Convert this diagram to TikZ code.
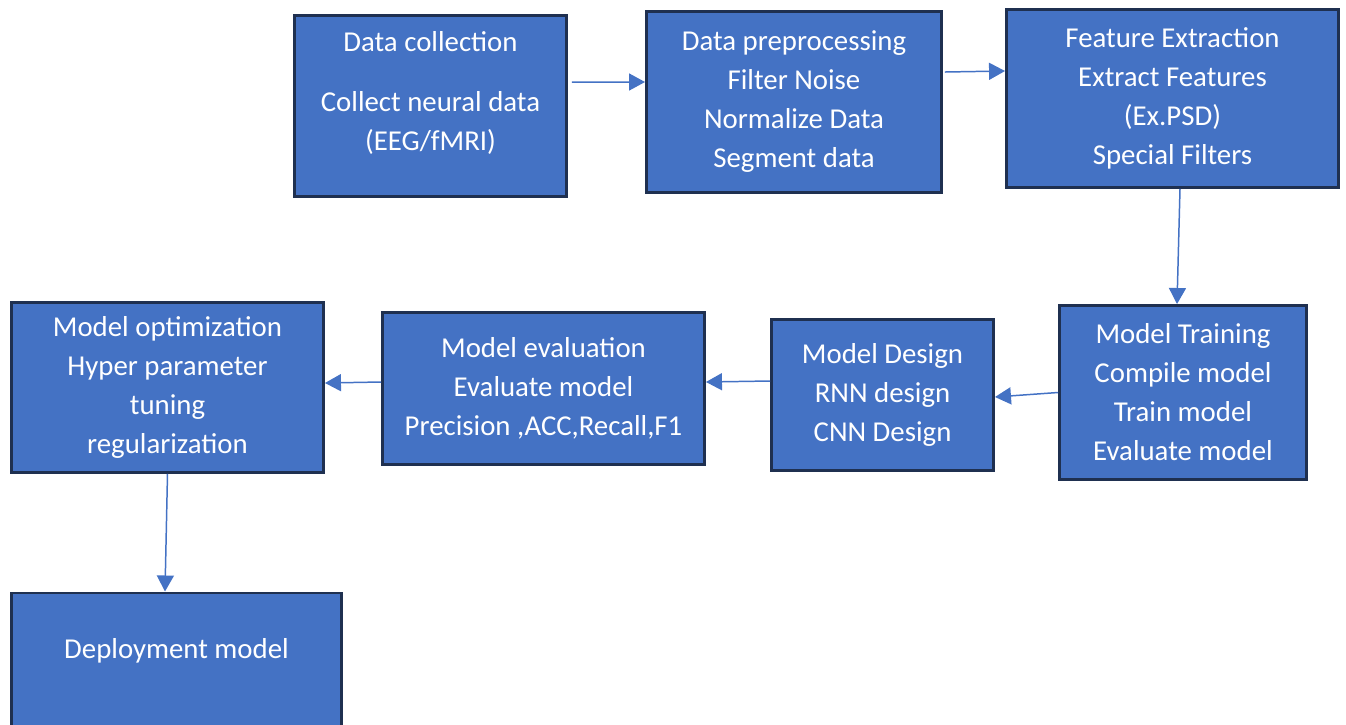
\documentclass[tikz,border=0pt]{standalone}
\usepackage{fontspec}
\newfontfamily\stagefont{Carlito}
\usetikzlibrary{arrows.meta}
\definecolor{stagefill}{HTML}{4472C4}
\definecolor{stageline}{HTML}{1F3050}
\begin{document}
\begin{tikzpicture}[x=0.02cm,y=-0.02cm,>={Triangle[length=0.32cm,width=0.34cm]}]
        \tikzstyle{stage}=[rectangle,draw=stageline,line width=1.7pt,fill=stagefill,text=white,align=center,inner sep=0pt,font={\stagefont\fontsize{16.4}{22.2}\selectfont}]
        \tikzstyle{edge}=[draw=stagefill,line width=0.85pt,->]
        \useasboundingbox (0,0) rectangle (1346,724);
       \begin{scope}
         \node [stage,minimum width=5.44cm,minimum height=3.62cm,text depth=0.62cm] (dc) at (430.5,106) {Data collection\\[0.42cm]Collect neural data\\(EEG/fMRI)};
         \node [stage,minimum width=5.9cm,minimum height=3.62cm] (dp) at (794,102) {Data preprocessing\\Filter Noise\\Normalize Data\\Segment data};
         \node [stage,minimum width=6.64cm,minimum height=3.56cm] (fe) at (1172.5,98.5) {Feature Extraction\\Extract Features\\(Ex.PSD)\\Special Filters};
         \node [stage,minimum width=4.94cm,minimum height=3.48cm] (mt) at (1183,392.5) {Model Training\\Compile model\\Train model\\Evaluate model};
         \node [stage,minimum width=4.44cm,minimum height=3.02cm] (md) at (882.5,395) {Model Design\\RNN design\\CNN Design};
         \node [stage,minimum width=6.44cm,minimum height=3.04cm] (me) at (543.5,388.5) {Model evaluation\\Evaluate model\\Precision ,ACC,Recall,F1};
         \node [stage,minimum width=6.24cm,minimum height=3.4cm] (mo) at (167.5,387.5) {Model optimization\\Hyper parameter\\tuning\\regularization};
         \node [stage,anchor=north,minimum width=6.6cm,text height=1.32cm,text depth=1.7cm] (dm) at (176.5,591.5) {Deployment model};
         \path[edge] ([xshift=0.08cm,yshift=0.48cm]dc.east) -- ([yshift=0.4cm]dp.west);
         \path[edge] ([xshift=0.04cm,yshift=0.6cm]dp.east) -- ([yshift=0.55cm]fe.west);
         \path[edge] ([xshift=0.15cm]fe.south) -- ([xshift=-0.12cm]mt.north);
         \path[edge] (mt.west) -- ([yshift=-0.04cm]md.east);
         \path[edge] ([yshift=0.28cm]md.west) -- ([yshift=0.13cm]me.east);
         \path[edge] ([yshift=0.13cm]me.west) -- ([yshift=0.09cm]mo.east);
         \path[edge] (mo.south) -- ([xshift=-0.23cm]dm.north);
        \end{scope}
      \end{tikzpicture}
\end{document}
